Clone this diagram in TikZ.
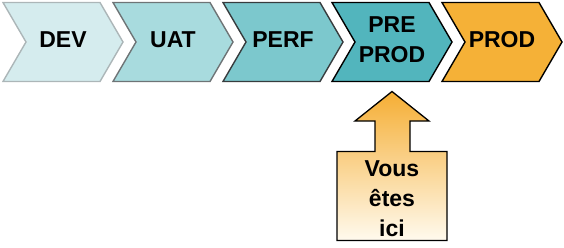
\documentclass[tikz,border=0pt]{standalone}
\usepackage{fontspec}
\setmainfont{Liberation Sans}
\begin{document}
\definecolor{devfill}{RGB}{213,236,238}
\definecolor{devline}{RGB}{172,182,184}
\definecolor{uatfill}{RGB}{168,219,222}
\definecolor{uatline}{RGB}{110,116,118}
\definecolor{perffill}{RGB}{124,200,205}
\definecolor{perfline}{RGB}{55,60,62}
\definecolor{prefill}{RGB}{82,181,189}
\definecolor{prodfill}{RGB}{245,177,55}
\definecolor{hereTop}{RGB}{245,174,52}
\definecolor{hereBottom}{RGB}{255,250,238}
\begin{tikzpicture}[x=1pt,y=-1pt,
  stage/.style={line width=1.4pt, line join=miter},
  label/.style={font=\fontsize{23}{30}\selectfont\bfseries, align=center, inner sep=0pt, text=black},
  herebox/.style={line width=1.3pt, draw=black, top color=hereTop, bottom color=hereBottom}]
\useasboundingbox (0,0) rectangle (564,247);
% chevron stage shape: left edge at #1
\newcommand{\stagepath}[1]{(#1,2.5) -- ++(97,0) -- ++(23,39.5) -- ++(-23,39.5) -- ++(-97,0) -- ++(23,-39.5) -- cycle}
\draw[stage, fill=devfill, draw=devline] \stagepath{3};
\draw[stage, fill=uatfill, draw=uatline] \stagepath{113};
\draw[stage, fill=perffill, draw=perfline] \stagepath{223};
\draw[stage, fill=prefill, draw=black] \stagepath{332};
\draw[stage, fill=prodfill, draw=black] \stagepath{442};
\node[label, anchor=base] (dev) at (63,47) {DEV};
\node[label, anchor=base] (uat) at (173,47) {UAT};
\node[label, anchor=base] (perf) at (283,47) {PERF};
\node[label] (preprod) at (392,40) {PRE\\PROD};
\node[label, anchor=base] (prod) at (502,47) {PROD};
% "you are here" marker: arrow on top of a box
\shade[herebox] (392,91.5) -- (429,121) -- (410,121) -- (410,151.5) -- (447,151.5)
  -- (447,240.5) -- (337,240.5) -- (337,151.5) -- (375,151.5) -- (375,121)
  -- (355,121) -- cycle;
\node[label] (here) at (392,198.5) {Vous\\êtes\\ici};
\end{tikzpicture}
\end{document}
